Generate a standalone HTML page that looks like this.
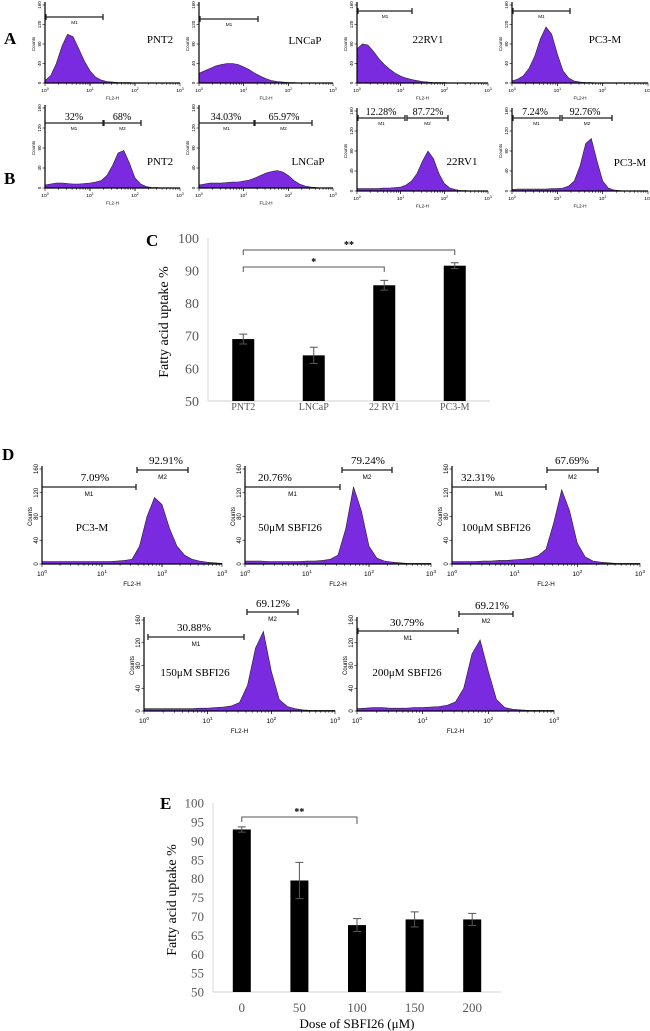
<!DOCTYPE html>
<html><head><meta charset="utf-8">
<style>
html,body{margin:0;padding:0;background:#fff;}
svg{display:block;font-family:"Liberation Serif",serif;}
</style></head>
<body>
<svg id="fig" width="650" height="1031" viewBox="0 0 650 1031" xmlns="http://www.w3.org/2000/svg">
  <text x="4" y="44" font-size="17" font-weight="bold">A</text>
  <text x="4" y="184" font-size="17" font-weight="bold">B</text>
  <text x="146" y="246" font-size="17" font-weight="bold">C</text>
  <text x="2" y="460" font-size="17" font-weight="bold">D</text>
  <text x="160" y="809" font-size="17" font-weight="bold">E</text>
  <g id="hist"></g>
  <g id="chartC"></g>
  <g id="chartE"></g>
</svg>
<script>
// ---------- Histogram data (counts sampled every 0.125 decade from 10^0 to 10^3) ----------
const histA1 = [5,15,40,75,100,95,70,45,25,12,6,3,2,1,1,1,0,0,0,0,0,0,0,0,0];
const histA2 = [20,25,30,35,38,40,40,38,33,27,20,14,9,5,3,2,1,1,0,0,0,0,0,0,0];
const histA3 = [70,80,78,65,50,38,28,20,14,10,7,5,3,2,1,1,1,0,0,0,0,0,0,0,0];
const histA4 = [4,8,15,30,55,90,115,100,60,25,10,4,2,1,1,0,0,0,0,0,0,0,0,0,0];
const histB1 = [6,8,10,10,9,8,8,9,10,12,15,25,45,70,75,50,20,8,3,1,1,0,0,0,0];
const histB2 = [6,8,10,10,10,11,12,12,14,16,20,25,30,33,35,32,25,15,8,4,2,1,0,0,0];
const histB3 = [5,5,5,5,5,6,6,7,8,12,20,35,60,80,65,35,15,6,3,1,1,0,0,0,0];
const histB4 = [3,4,4,4,4,4,4,5,5,6,10,20,50,95,105,60,20,6,2,1,0,0,0,0,0];
const histD1 = [4,4,4,4,4,4,4,4,4,4,5,6,8,30,80,112,100,60,30,15,8,5,3,2,1];
const histD2 = [5,5,5,4,4,4,4,4,5,5,6,8,15,60,130,90,30,10,5,3,2,1,1,1,1];
const histD3 = [4,4,4,4,5,5,6,6,7,8,10,14,25,70,125,90,35,12,5,3,2,1,1,1,1];
const histD4 = [4,4,4,4,4,4,4,5,5,6,7,9,15,45,110,140,70,20,8,4,2,1,1,1,1];
const histD5 = [4,5,6,6,5,5,5,6,6,7,8,10,16,40,100,125,70,20,6,3,2,1,1,1,1];

// ---------- Chart C data ----------
const catsC = ["PNT2","LNCaP","22 RV1","PC3-M"];
const valsC = [69,64,85.5,91.5];
const errsC = [1.5,2.5,1.5,0.9];
const ticksC = [50,60,70,80,90,100];

// ---------- Chart E data ----------
const catsE = ["0","50","100","150","200"];
const valsE = [93,79.5,67.7,69.2,69.2];
const errsE = [0.7,4.8,1.7,2.0,1.6];
const ticksE = [50,55,60,65,70,75,80,85,90,95,100];

const NS="http://www.w3.org/2000/svg";
function mk(tag, attrs, parent, txt){
  const e=document.createElementNS(NS,tag);
  for(const k in attrs) e.setAttribute(k,attrs[k]);
  if(txt!==undefined) e.textContent=txt;
  parent.appendChild(e); return e;
}
const FILL="#7a2be0";

const panels=[
 {d:histA1,x0:45,x1:180,yb:83,yt:5,fs:4.5,name:"PNT2",nx:160,ny:43,ns:11,bars:[[46,103,17,"M1"]],pct:[],id:"a-pnt2"},
 {d:histA2,x0:199,x1:333,yb:83,yt:5,fs:4.5,name:"LNCaP",nx:305,ny:44,ns:11,bars:[[200,258,19,"M1"]],pct:[],id:"a-lncap"},
 {d:histA3,x0:357,x1:488,yb:83,yt:5,fs:4.5,name:"22RV1",nx:428,ny:43,ns:11,bars:[[358,412,11,"M1"]],pct:[],id:"a-22rv1"},
 {d:histA4,x0:512,x1:648,yb:83,yt:5,fs:4.5,name:"PC3-M",nx:605,ny:43,ns:11,bars:[[513,570,11,"M1"]],pct:[],id:"a-pc3m"},
 {d:histB1,x0:45,x1:180,yb:188,yt:108,fs:4.5,name:"PNT2",nx:160,ny:165,ns:11,bars:[[45,103,123,"M1"],[104,141,123,"M2"]],pct:[["32%",74,120],["68%",122,120]],ps:10,id:"b-pnt2"},
 {d:histB2,x0:199,x1:333,yb:188,yt:108,fs:4.5,name:"LNCaP",nx:308,ny:165,ns:11,bars:[[199,254,123,"M1"],[255,312,123,"M2"]],pct:[["34.03%",226,120],["65.97%",284,120]],ps:10,id:"b-lncap"},
 {d:histB3,x0:357,x1:488,yb:191,yt:111,fs:4.5,name:"22RV1",nx:462,ny:165,ns:11,bars:[[358,405,118,"M1"],[407,448,118,"M2"]],pct:[["12.28%",381,115],["87.72%",428,115]],ps:10,id:"b-22rv1"},
 {d:histB4,x0:512,x1:648,yb:191,yt:111,fs:4.5,name:"PC3-M",nx:630,ny:166,ns:11,bars:[[513,560,118,"M1"],[562,612,118,"M2"]],pct:[["7.24%",535,115],["92.76%",585,115]],ps:10,id:"b-pc3m"},
 {d:histD1,x0:42,x1:222,yb:564,yt:469,fs:6,name:"PC3-M",nx:92,ny:531,ns:11,bars:[[42,136,487,"M1"],[137,188,470,"M2"]],pct:[["7.09%",95,481],["92.91%",166,464]],ps:11,id:"d-pc3m"},
 {d:histD2,x0:245,x1:431,yb:564,yt:469,fs:6,name:"50μM SBFI26",nx:290,ny:531,ns:11,bars:[[245,340,487,"M1"],[342,392,470,"M2"]],pct:[["20.76%",275,481],["79.24%",368,464]],ps:11,id:"d-50"},
 {d:histD3,x0:452,x1:640,yb:564,yt:469,fs:6,name:"100μM SBFI26",nx:496,ny:531,ns:11,bars:[[452,546,487,"M1"],[547,598,470,"M2"]],pct:[["32.31%",478,481],["67.69%",572,464]],ps:11,id:"d-100"},
 {d:histD4,x0:144,x1:335,yb:711,yt:620,fs:6,name:"150μM SBFI26",nx:195,ny:676,ns:11,bars:[[148,244,637,"M1"],[247,298,612,"M2"]],pct:[["30.88%",194,631],["69.12%",273,607]],ps:11,id:"d-150"},
 {d:histD5,x0:357,x1:554,yb:711,yt:620,fs:6,name:"200μM SBFI26",nx:407,ny:676,ns:11,bars:[[358,458,631,"M1"],[459,513,614,"M2"]],pct:[["30.79%",407,626],["69.21%",492,609]],ps:11,id:"d-200"}
];

const hg=document.getElementById('hist');
panels.forEach(p=>{
  const g=mk('g',{},hg);
  
  
  const sx=v=>p.x0+(v/3)*(p.x1-p.x0);
  const sy=c=>p.yb-(c/160)*(p.yb-p.yt);
  let dpath="M"+sx(0)+","+p.yb;
  p.d.forEach((c,i)=>{dpath+=" L"+sx(i*0.125).toFixed(1)+","+sy(c).toFixed(1);});
  dpath+=" L"+sx(3)+","+p.yb+" Z";
  const area=mk('path',{d:dpath,fill:FILL,stroke:"#222","stroke-width":0.6},g);
  
  
  const ax=mk('path',{d:`M${p.x0},${p.yt-3} L${p.x0},${p.yb} L${p.x1},${p.yb}`,fill:"none",stroke:"#000","stroke-width":1.2},g);
  
  
  for(let dec=0;dec<3;dec++){for(let k=1;k<=10;k++){const xx=sx(dec+Math.log10(k));mk('line',{x1:xx,x2:xx,y1:p.yb,y2:p.yb+(k==10||k==1?3:1.8),stroke:"#000","stroke-width":0.6},g);}}
  [0,40,80,120,160].forEach(t=>{
    mk('line',{x1:p.x0-2.5,x2:p.x0,y1:sy(t),y2:sy(t),stroke:"#000","stroke-width":0.6},g);
    const tl=mk('text',{x:p.x0-4,y:sy(t),"font-size":p.fs,"font-family":"Liberation Sans,sans-serif","text-anchor":"middle",transform:`rotate(-90 ${p.x0-4} ${sy(t)})`},g,String(t));
    
    
  });
  const cl=mk('text',{x:p.x0-10,y:(p.yb+p.yt)/2,"font-size":p.fs,"font-family":"Liberation Sans,sans-serif","text-anchor":"middle",transform:`rotate(-90 ${p.x0-10} ${(p.yb+p.yt)/2})`},g,"Counts");
  
  
  for(let dec=0;dec<=3;dec++){
    const t=mk('text',{x:sx(dec),y:p.yb+p.fs*2,"font-size":p.fs*1.1,"font-family":"Liberation Sans,sans-serif","text-anchor":"middle"},g,"10");
    mk('tspan',{dy:-p.fs*0.5,"font-size":p.fs*0.8},t,String(dec));
    
    
  }
  const xt=mk('text',{x:sx(1.5),y:p.yb+p.fs*3.7,"font-size":p.fs*1.05,"font-family":"Liberation Sans,sans-serif","text-anchor":"middle"},g,"FL2-H");
  
  
  p.bars.forEach(b=>{
    const mb=mk('path',{d:`M${b[0]},${b[2]-3} L${b[0]},${b[2]+3} M${b[0]},${b[2]} L${b[1]},${b[2]} M${b[1]},${b[2]-3} L${b[1]},${b[2]+3}`,stroke:"#222","stroke-width":1.3,fill:"none"},g);
    
    
    const ml=mk('text',{x:(b[0]+b[1])/2,y:b[2]+p.fs*1.5,"font-size":p.fs*1.05,"font-family":"Liberation Sans,sans-serif","text-anchor":"middle"},g,b[3]);
    
    
  });
  p.pct.forEach(q=>{
    const pt=mk('text',{x:q[1],y:q[2],"font-size":p.ps,"text-anchor":"middle"},g,q[0]);
    
    
  });
  const nm=mk('text',{x:p.nx,y:p.ny,"font-size":p.ns,"text-anchor":"middle"},g,p.name);
  
  
});

function barChart(gid,cats,vals,errs,ticks,cfg){
  const g=document.getElementById(gid);
  const y=v=>cfg.yb-(v-ticks[0])*(cfg.yb-cfg.yt)/(ticks[ticks.length-1]-ticks[0]);
  const x=i=>cfg.x0+cfg.step*(i+0.5);
  const yl=mk('line',{x1:cfg.x0,x2:cfg.x0,y1:cfg.yt,y2:cfg.yb,stroke:"#d9d9d9","stroke-width":1},g);
  
  
  const xl=mk('line',{x1:cfg.x0,x2:cfg.x0+cfg.step*cats.length,y1:cfg.yb,y2:cfg.yb,stroke:"#d9d9d9","stroke-width":1.2},g);
  
  
  ticks.forEach(t=>{
    const tl=mk('text',{x:cfg.x0-9,y:y(t)+cfg.tfs*0.35,"font-size":cfg.tfs,"text-anchor":"end",fill:"#595959"},g,String(t));
    
    
  });
  cats.forEach((c,i)=>{
    const b=mk('rect',{x:x(i)-cfg.bw/2,y:y(vals[i]),width:cfg.bw,height:cfg.yb-y(vals[i]),fill:"#000"},g);
    
    
    const e=mk('path',{d:`M${x(i)},${y(vals[i]+errs[i])} L${x(i)},${y(vals[i]-errs[i])} M${x(i)-4},${y(vals[i]+errs[i])} L${x(i)+4},${y(vals[i]+errs[i])} M${x(i)-4},${y(vals[i]-errs[i])} L${x(i)+4},${y(vals[i]-errs[i])}`,stroke:"#555","stroke-width":1,fill:"none"},g);
    
    
    const cl=mk('text',{x:x(i),y:cfg.cy,"font-size":cfg.cfs,"text-anchor":"middle",fill:"#595959"},g,c);
    
    
  });
  const yt=mk('text',{x:cfg.ytx,y:cfg.ytc,"font-size":cfg.ytfs,"text-anchor":"middle",transform:`rotate(-90 ${cfg.ytx} ${cfg.ytc})`},g,"Fatty acid uptake %");
  
  
  cfg.sig.forEach(s=>{
    const a=x(s[0]),b=x(s[1]),yy=s[2];
    const br=mk('path',{d:`M${a},${yy+5} L${a},${yy} L${b},${yy} L${b},${yy+s[4]}`,stroke:"#555","stroke-width":1,fill:"none"},g);
    
    
    const st=mk('text',{x:(a+b)/2,y:yy-2,"font-size":10,"font-weight":"bold","text-anchor":"middle"},g,s[3]);
    
    
  });
  return {x,y,g};
}
barChart('chartC',catsC,valsC,errsC,ticksC,{x0:208,step:70.5,yb:401,yt:238,bw:22,tfs:14,cfs:10,cy:410,ytx:168,ytc:322,ytfs:14,
  sig:[[0,3,250,"**",5],[0,2,267,"*",5]]});
const E=barChart('chartE',catsE,valsE,errsE,ticksE,{x0:213,step:57.6,yb:992,yt:803,bw:18,tfs:13,cfs:13,cy:1012,ytx:176,ytc:900,ytfs:14,
  sig:[[0,2,817,"**",7]]});
const xt=mk('text',{x:357,y:1028,"font-size":13,"text-anchor":"middle"},E.g,"Dose of SBFI26 (μM)");


</script>
</body></html>
